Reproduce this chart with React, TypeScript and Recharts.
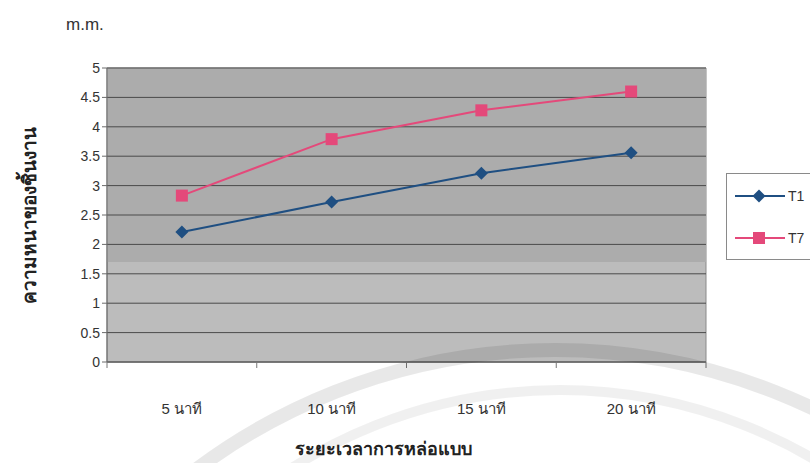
import React from "react";
import {
  LineChart,
  Line,
  XAxis,
  YAxis,
  ReferenceArea,
  ReferenceLine,
} from "recharts";

// Casting time categories (minutes)
const categories = ["5 นาที", "10 นาที", "15 นาที", "20 นาที"];
// Piece thickness (mm) for each test condition
const t1Values = [2.21, 2.72, 3.21, 3.56];
const t7Values = [2.83, 3.79, 4.28, 4.6];
const yTicks = [0, 0.5, 1, 1.5, 2, 2.5, 3, 3.5, 4, 4.5, 5];

const seriesNames = ["T1", "T7"];
const seriesColors = ["#1f4f82", "#e4497a"];

const data = categories.map((c, i) => ({
  name: c,
  T1: t1Values[i],
  T7: t7Values[i],
}));

const FONT = "'Liberation Sans', Arial, 'DejaVu Sans', 'Noto Sans', sans-serif";

const W = 810;
const H = 463;
const X_AXIS_H = 40;
const Y_AXIS_W = 40;
const MARGIN = { top: 68, right: 104, bottom: H - 362 - X_AXIS_H, left: 67 };
const PLOT_W = W - MARGIN.left - Y_AXIS_W - MARGIN.right;

const Diamond = (props: any) => {
  const { cx, cy } = props;
  if (cx == null || cy == null) return null;
  const r = 6.5;
  return (
    <path
      d={`M${cx},${cy - r} L${cx + r},${cy} L${cx},${cy + r} L${cx - r},${cy} Z`}
      fill={seriesColors[0]}
    />
  );
};

const Square = (props: any) => {
  const { cx, cy } = props;
  if (cx == null || cy == null) return null;
  const s = 12;
  return <rect x={cx - s / 2} y={cy - s / 2} width={s} height={s} fill={seriesColors[1]} />;
};

// Category labels with tick marks at the boundaries between categories
const CategoryTick = (props: any) => {
  const { x, y, payload, index } = props;
  const step = PLOT_W / categories.length;
  const left = x - step / 2;
  return (
    <g>
      <line x1={left} y1={y - 8} x2={left} y2={y - 2} stroke="#777" />
      {index === categories.length - 1 && (
        <line x1={x + step / 2} y1={y - 8} x2={x + step / 2} y2={y - 2} stroke="#777" />
      )}
      <text
        x={x}
        y={y + 44}
        textAnchor="middle"
        fontFamily={FONT}
        fontSize={15}
        fill="#333"
      >
        {payload.value}
      </text>
    </g>
  );
};

const Legend = () => (
  <div
    style={{
      position: "absolute",
      left: 726,
      top: 173,
      width: 100,
      height: 87,
      border: "1px solid #8a8a8a",
      boxSizing: "border-box",
      background: "#fff",
    }}
  >
    <svg width={100} height={87} style={{ position: "absolute", left: -1, top: -1 }}>
      {seriesNames.map((n, i) => {
        const y = 23 + i * 42;
        return (
          <g key={n}>
            <line x1={9} y1={y} x2={59} y2={y} stroke={seriesColors[i]} strokeWidth={2} />
            {i === 0 ? (
              <path d={`M33,${y - 6.5} L39.5,${y} L33,${y + 6.5} L26.5,${y} Z`} fill={seriesColors[0]} />
            ) : (
              <rect x={27} y={y - 6} width={12} height={12} fill={seriesColors[1]} />
            )}
            <text x={62} y={y + 5} fontFamily={FONT} fontSize={14} fill="#333">
              {n}
            </text>
          </g>
        );
      })}
    </svg>
  </div>
);

// Faint emblem rings printed behind the lower part of the page
const Emblem = () => (
  <svg
    width={W}
    height={H}
    style={{ position: "absolute", left: 0, top: 0, pointerEvents: "none" }}
  >
    <circle cx={555} cy={948} r={598} fill="none" stroke="rgba(0,0,0,0.09)" strokeWidth={14} />
    <circle cx={560} cy={890} r={500} fill="none" stroke="rgba(0,0,0,0.06)" strokeWidth={10} />
  </svg>
);

export default function App() {
  return (
    <div
      style={{
        position: "absolute",
        left: 0,
        top: 0,
        width: W,
        height: H,
        background: "#fff",
        overflow: "hidden",
        fontFamily: FONT,
      }}
    >
      <LineChart width={W} height={H} data={data} margin={MARGIN}>
        <ReferenceArea y1={0} y2={5} fill="#bcbcbc" fillOpacity={1} stroke="#8a8a8a" ifOverflow="visible" />
        <ReferenceArea y1={1.7} y2={5} fill="#acacac" fillOpacity={1} stroke="none" ifOverflow="visible" />
        {yTicks.map((t) => (
          <ReferenceLine key={t} y={t} stroke="#4a4a4a" strokeWidth={1} />
        ))}
        <XAxis
          dataKey="name"
          scale="band"
          axisLine={{ stroke: "#6a6a6a" }}
          tickLine={false}
          tick={<CategoryTick />}
          interval={0}
          height={X_AXIS_H}
        />
        <YAxis
          domain={[0, 5]}
          ticks={yTicks}
          width={Y_AXIS_W}
          axisLine={{ stroke: "#6a6a6a" }}
          tickLine={{ stroke: "#6a6a6a" }}
          tickSize={5}
          tick={{ fontFamily: FONT, fontSize: 14, fill: "#333" }}
        />
        <Line
          dataKey="T1"
          stroke={seriesColors[0]}
          strokeWidth={2}
          dot={<Diamond />}
          activeDot={false}
          isAnimationActive={false}
        />
        <Line
          dataKey="T7"
          stroke={seriesColors[1]}
          strokeWidth={2}
          dot={<Square />}
          activeDot={false}
          isAnimationActive={false}
        />
        <text x={66} y={30} fontFamily={FONT} fontSize={17} fill="#333">
          m.m.
        </text>
        <text
          x={36}
          y={215}
          transform="rotate(-90 36 215)"
          textAnchor="middle"
          fontFamily={FONT}
          fontSize={19}
          fontWeight="bold"
          fill="#222"
        >
          ความหนาของชิ้นงาน
        </text>
        <text
          x={383}
          y={455}
          textAnchor="middle"
          fontFamily={FONT}
          fontSize={18}
          fontWeight="bold"
          fill="#222"
        >
          ระยะเวลาการหล่อแบบ
        </text>
      </LineChart>
      <Legend />
      <Emblem />
    </div>
  );
}
